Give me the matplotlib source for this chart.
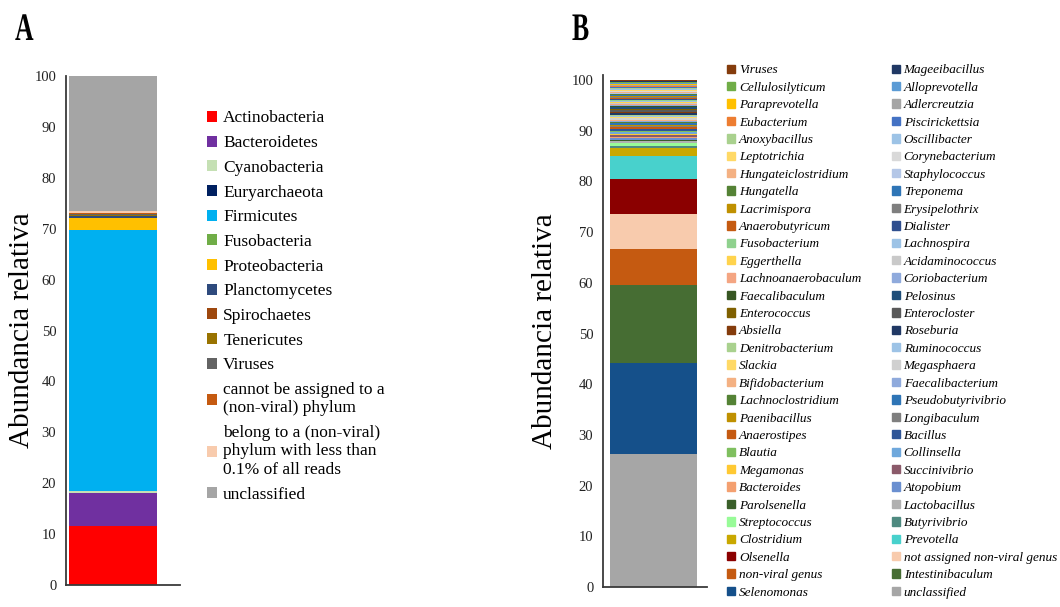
import matplotlib
matplotlib.use("Agg")
import matplotlib.pyplot as plt
from matplotlib.patches import Patch, PathPatch
from matplotlib.textpath import TextPath
from matplotlib.font_manager import FontProperties
from matplotlib.transforms import Affine2D

plt.rcParams['font.family'] = ['Liberation Serif', 'DejaVu Serif']

# --- Panel A: phylum level ---
phyla = ['Actinobacteria', 'Bacteroidetes', 'Cyanobacteria', 'Euryarchaeota',
         'Firmicutes', 'Fusobacteria', 'Proteobacteria', 'Planctomycetes',
         'Spirochaetes', 'Tenericutes', 'Viruses',
         'cannot be assigned to a\n(non-viral) phylum',
         'belong to a (non-viral)\nphylum with less than\n0.1% of all reads',
         'unclassified']
phyla_abund = [11.5, 6.6, 0.3, 0.05, 51.2, 0.05, 2.4, 0.3, 0.1, 0.1, 0.35,
               0.15, 0.4, 26.5]
phyla_colors = ['#FF0000', '#7030A0', '#C5E0B4', '#002060', '#00B0F0',
                '#70AD47', '#FFC000', '#2E4A7D', '#9E480E', '#997300',
                '#636363', '#C55A11', '#F8CBAD', '#A5A5A5']

# --- Panel B: genus level, legend columns as printed ---
genera_col1 = ['Viruses', 'Cellulosilyticum', 'Paraprevotella', 'Eubacterium',
               'Anoxybacillus', 'Leptotrichia', 'Hungateiclostridium', 'Hungatella',
               'Lacrimispora', 'Anaerobutyricum', 'Fusobacterium', 'Eggerthella',
               'Lachnoanaerobaculum', 'Faecalibaculum', 'Enterococcus', 'Absiella',
               'Denitrobacterium', 'Slackia', 'Bifidobacterium', 'Lachnoclostridium',
               'Paenibacillus', 'Anaerostipes', 'Blautia', 'Megamonas',
               'Bacteroides', 'Parolsenella', 'Streptococcus', 'Clostridium',
               'Olsenella', 'non-viral genus', 'Selenomonas']
abund_col1 = [0.15, 0.25, 0.2, 0.2, 0.2, 0.2, 0.2, 0.2, 0.2, 0.2, 0.2, 0.2,
              0.2, 0.25, 0.3, 0.3, 0.25, 0.3, 0.25, 0.25, 0.3, 0.35, 0.3, 0.3,
              0.35, 0.3, 0.6, 1.4, 6.9, 7.1, 17.8]
colors_col1 = ['#843C0C', '#70AD47', '#FFC000', '#ED7D31', '#A9D18E', '#FFD966',
               '#F4B183', '#548235', '#BF9000', '#C55A11', '#8FD18E', '#FFD34D',
               '#F4A582', '#375623', '#7F6000', '#843C0C', '#A9D18E', '#FFD966',
               '#F4B183', '#548235', '#BF9000', '#C55A11', '#7FBF5F', '#FFC933',
               '#F4A070', '#3A5F2A', '#98FB98', '#C9A800', '#8B0000', '#C55A11',
               '#15508A']

genera_col2 = ['Mageeibacillus', 'Alloprevotella', 'Adlercreutzia', 'Piscirickettsia',
               'Oscillibacter', 'Corynebacterium', 'Staphylococcus', 'Treponema',
               'Erysipelothrix', 'Dialister', 'Lachnospira', 'Acidaminococcus',
               'Coriobacterium', 'Pelosinus', 'Enterocloster', 'Roseburia',
               'Ruminococcus', 'Megasphaera', 'Faecalibacterium', 'Pseudobutyrivibrio',
               'Longibaculum', 'Bacillus', 'Collinsella', 'Succinivibrio',
               'Atopobium', 'Lactobacillus', 'Butyrivibrio', 'Prevotella',
               'not assigned non-viral genus', 'Intestinibaculum', 'unclassified']
abund_col2 = [0.2, 0.2, 0.2, 0.2, 0.2, 0.2, 0.2, 0.2, 0.2, 0.2, 0.2, 0.2,
              0.2, 0.25, 0.3, 0.25, 0.2, 0.25, 0.25, 0.25, 0.25, 0.3, 0.25, 0.3,
              0.3, 0.3, 0.5, 4.7, 6.9, 15.4, 26.3]
colors_col2 = ['#203864', '#5B9BD5', '#A5A5A5', '#4472C4', '#9DC3E6', '#D9D9D9',
               '#B4C7E7', '#2E75B6', '#7F7F7F', '#2F4F8F', '#9DC3E6', '#C9C9C9',
               '#8FAADC', '#1F4E79', '#595959', '#203864', '#9DC3E6', '#D0D0D0',
               '#8FAADC', '#2E75B6', '#7F7F7F', '#2F5597', '#6FA8DC', '#8B5A6A',
               '#6A8FD0', '#B0B0B0', '#4E8A80', '#48D1CC', '#F8CBAD', '#466D33',
               '#A6A6A6']

fig = plt.figure(figsize=(10.6, 6.07), dpi=100)


def style_axis(ax, ymax, label_x):
    ax.set_xlim(0, 1)
    ax.set_ylim(0, ymax)
    ax.set_yticks(range(0, 101, 10))
    ax.set_xticks([])
    for s in ('top', 'right'):
        ax.spines[s].set_visible(False)
    for s in ('left', 'bottom'):
        ax.spines[s].set_color('#3a3a3a')
        ax.spines[s].set_linewidth(1.3)
    ax.tick_params(axis='y', length=0, pad=7, labelsize=10.5, colors='#222222')
    ax.set_ylabel('Abundancia relativa', fontsize=21)
    ax.yaxis.set_label_coords(label_x, 0.5)


# Panel A stacked bar
axA = fig.add_axes([0.0623, 0.0362, 0.1075, 0.8386])
bottom = 0
for name, val, col in zip(phyla, phyla_abund, phyla_colors):
    axA.bar(0.412, val, width=0.772, bottom=bottom, color=col, label=name)
    bottom += val
style_axis(axA, 100, -0.27)
hA, lA = axA.get_legend_handles_labels()
fig.legend(hA, lA, loc='upper left', bbox_to_anchor=(0.195, 0.818),
           frameon=False, fontsize=12.5, handlelength=0.6, handleheight=0.6,
           handletextpad=0.35, labelspacing=0.5, borderpad=0, borderaxespad=0)

# Panel B stacked bar: series stack in reverse row order of the two-column legend
stack_names, stack_vals, stack_cols = [], [], []
for r in range(len(genera_col1) - 1, -1, -1):
    for names, vals, cols in ((genera_col2, abund_col2, colors_col2),
                              (genera_col1, abund_col1, colors_col1)):
        stack_names.append(names[r])
        stack_vals.append(vals[r])
        stack_cols.append(cols[r])

axB = fig.add_axes([0.5689, 0.0330, 0.0981, 0.8435])
bottom = 0
handles = {}
for name, val, col in zip(stack_names, stack_vals, stack_cols):
    axB.bar(0.486, val, width=0.837, bottom=bottom, color=col)
    handles[name] = Patch(color=col)
    bottom += val
style_axis(axB, 101, -0.43)

legend_names = genera_col1 + genera_col2
fig.legend([handles[n] for n in legend_names], legend_names, loc='upper left',
           ncol=2, bbox_to_anchor=(0.686, 0.894), frameon=False,
           prop=FontProperties(family='Liberation Serif', style='italic', size=9.5),
           handlelength=0.6, handleheight=0.6, handletextpad=0.3,
           labelspacing=0.41, columnspacing=2.3, borderpad=0, borderaxespad=0)

# Panel letters, bold and condensed
letter_font = FontProperties(family='Liberation Serif', weight='bold')
for letter, px in (('A', 15), ('B', 572)):
    tp = TextPath((0, 0), letter, size=39, prop=letter_font)
    fig.add_artist(PathPatch(tp, color='black', lw=0,
                             transform=Affine2D().scale(0.66, 1.0).translate(px, 607 - 40)))

fig.savefig('out.png', dpi=100)
